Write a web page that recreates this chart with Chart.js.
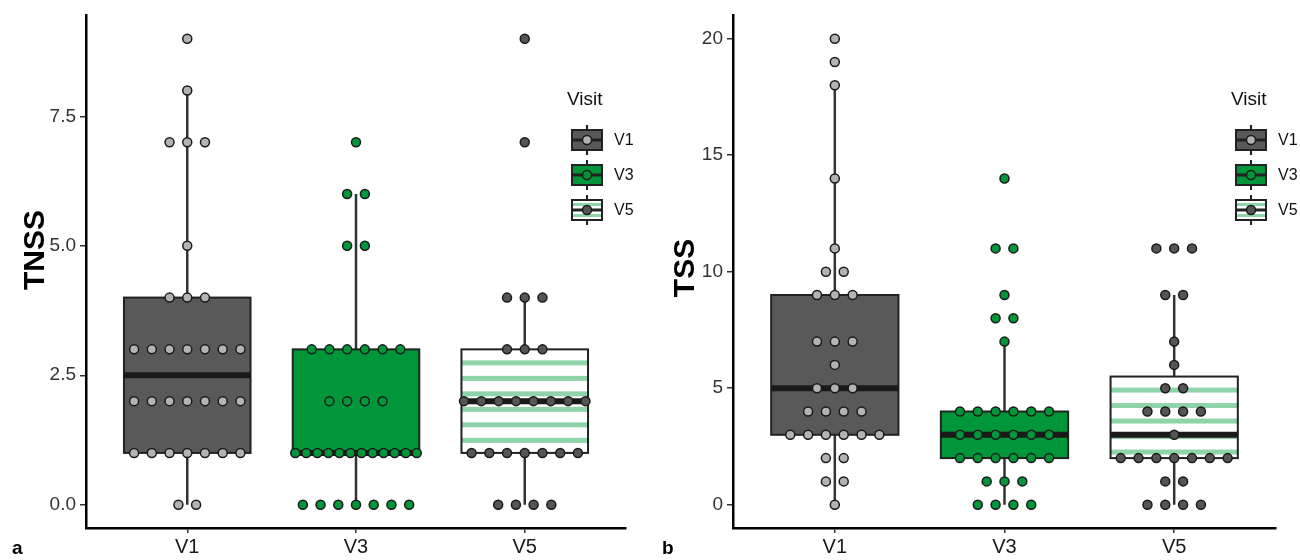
<!DOCTYPE html>
<html>
<head>
<meta charset="utf-8">
<script src="https://cdn.jsdelivr.net/npm/chart.js@4/dist/chart.umd.min.js"></script>
<style>
  body { margin: 0; background: #fff; }
  #wrap { position: relative; width: 1300px; height: 560px; }
  canvas { position: absolute; top: 0; }
</style>
</head>
<body>
<div id="wrap">
  <canvas id="panelA" width="650" height="560" style="left:0"></canvas>
  <canvas id="panelB" width="650" height="560" style="left:650px"></canvas>
</div>
<script>
var categories = ["V1", "V3", "V5"];

// TNSS scores per visit (one value per subject)
var tnssV1 = [9, 8, 7, 7, 7, 5, 4, 4, 4, 3, 3, 3, 3, 3, 3, 3, 2, 2, 2, 2, 2, 2, 2, 1, 1, 1, 1, 1, 1, 1, 0, 0];
var tnssV3 = [7, 6, 6, 5, 5, 3, 3, 3, 3, 3, 3, 2, 2, 2, 2, 1, 1, 1, 1, 1, 1, 1, 1, 1, 1, 1, 1, 0, 0, 0, 0, 0, 0, 0];
var tnssV5 = [9, 7, 4, 4, 4, 3, 3, 3, 2, 2, 2, 2, 2, 2, 2, 2, 1, 1, 1, 1, 1, 1, 1, 0, 0, 0, 0];

// TSS scores per visit
var tssV1 = [20, 19, 18, 14, 11, 10, 10, 9, 9, 9, 7, 7, 7, 6, 5, 5, 5, 4, 4, 4, 4, 3, 3, 3, 3, 3, 3, 2, 2, 1, 1, 0];
var tssV3 = [14, 11, 11, 9, 8, 8, 7, 4, 4, 4, 4, 4, 4, 3, 3, 3, 3, 3, 3, 2, 2, 2, 2, 2, 2, 1, 1, 1, 0, 0, 0, 0];
var tssV5 = [11, 11, 11, 9, 9, 7, 6, 5, 5, 4, 4, 4, 4, 3, 2, 2, 2, 2, 2, 2, 2, 1, 1, 0, 0, 0, 0];

var tnssTicks = [0, 2.5, 5, 7.5];
var tssTicks = [0, 5, 10, 15, 20];

var FONT = "'Liberation Sans', Arial, sans-serif";
var styles = [
    { fill: "#595959", stripes: false, point: "#b3b3b3" },
    { fill: "#009639", stripes: false, point: "#009639" },
    { fill: "#ffffff", stripes: true, point: "#555555" }
];

function quantile(sorted, p) {
    var h = (sorted.length - 1) * p;
    var lo = Math.floor(h);
    var hi = Math.ceil(h);
    return sorted[lo] + (h - lo) * (sorted[hi] - sorted[lo]);
}

function boxStats(values) {
    var s = values.slice().sort(function(a, b) { return a - b; });
    var q1 = quantile(s, 0.25), med = quantile(s, 0.5), q3 = quantile(s, 0.75);
    var iqr = q3 - q1;
    var inside = s.filter(function(v) { return v >= q1 - 1.5 * iqr && v <= q3 + 1.5 * iqr; });
    return { q1: q1, med: med, q3: q3, lo: inside[0], hi: inside[inside.length - 1] };
}

// spread points that share a value across the box (stand-in for jitter)
function spreadPoints(values, center) {
    var counts = {};
    values.forEach(function(v) { counts[v] = (counts[v] || 0) + 1; });
    var seen = {};
    return values.map(function(v) {
        var n = counts[v];
        var i = seen[v] || 0;
        seen[v] = i + 1;
        var span = Math.min(0.72, 0.105 * (n - 1));
        var off = n > 1 ? -span / 2 + i * span / (n - 1) : 0;
        return { x: center + off, y: v };
    });
}

function drawStripes(ctx, x0, y0, w, h) {
    ctx.save();
    ctx.beginPath();
    ctx.rect(x0, y0, w, h);
    ctx.clip();
    ctx.fillStyle = "#8fd3a8";
    for (var y = y0 + 11; y < y0 + h - 4; y += 15.5) {
        ctx.fillRect(x0, y, w, 5);
    }
    ctx.restore();
}

var boxPlugin = {
    id: "boxes",
    beforeDatasetsDraw: function(chart) {
        var ctx = chart.ctx;
        var xs = chart.scales.x, ys = chart.scales.y;
        chart.options.plugins.boxes.groups.forEach(function(vals, g) {
            var st = boxStats(vals);
            var cx = xs.getPixelForValue(g + 1);
            var half = (xs.getPixelForValue(g + 1.375) - xs.getPixelForValue(g + 0.625)) / 2;
            var yq1 = ys.getPixelForValue(st.q1), yq3 = ys.getPixelForValue(st.q3);
            ctx.save();
            ctx.strokeStyle = "#333333";
            ctx.lineWidth = 2.5;
            ctx.beginPath();
            ctx.moveTo(cx, ys.getPixelForValue(st.hi));
            ctx.lineTo(cx, yq3);
            ctx.moveTo(cx, yq1);
            ctx.lineTo(cx, ys.getPixelForValue(st.lo));
            ctx.stroke();
            ctx.fillStyle = styles[g].fill;
            ctx.fillRect(cx - half, yq3, half * 2, yq1 - yq3);
            if (styles[g].stripes) drawStripes(ctx, cx - half, yq3, half * 2, yq1 - yq3);
            ctx.strokeStyle = "#222222";
            ctx.lineWidth = 2;
            ctx.strokeRect(cx - half, yq3, half * 2, yq1 - yq3);
            ctx.strokeStyle = "#1a1a1a";
            ctx.lineWidth = 6;
            var ym = ys.getPixelForValue(st.med);
            ctx.beginPath();
            ctx.moveTo(cx - half, ym);
            ctx.lineTo(cx + half, ym);
            ctx.stroke();
            ctx.restore();
        });
    },
    afterDraw: function(chart) {
        var o = chart.options.plugins.boxes;
        var ctx = chart.ctx;
        ctx.save();
        // axis title
        ctx.fillStyle = "#000";
        ctx.font = "bold 30px " + FONT;
        ctx.textAlign = "center";
        ctx.textBaseline = "middle";
        ctx.translate(o.titleX, o.titleY);
        ctx.rotate(-Math.PI / 2);
        ctx.fillText(o.title, 0, 0);
        ctx.restore();

        ctx.save();
        ctx.fillStyle = "#000";
        ctx.font = "bold 19px " + FONT;
        ctx.textBaseline = "middle";
        ctx.fillText(o.letter, 12, 549);

        // legend
        var lx = o.legendX, ly = 100;
        ctx.font = "19px " + FONT;
        ctx.fillStyle = "#111";
        ctx.fillText("Visit", lx - 3, ly);
        categories.forEach(function(c, i) {
            var cy = 140 + i * 35;
            var kx = lx + 2, kw = 30, kh = 20;
            ctx.strokeStyle = "#222";
            ctx.lineWidth = 2;
            ctx.beginPath();
            ctx.moveTo(kx + kw / 2, cy - 15);
            ctx.lineTo(kx + kw / 2, cy + 15);
            ctx.stroke();
            ctx.fillStyle = styles[i].fill;
            ctx.fillRect(kx, cy - kh / 2, kw, kh);
            if (styles[i].stripes) {
                ctx.fillStyle = "#8fd3a8";
                ctx.fillRect(kx, cy - 7, kw, 3);
                ctx.fillRect(kx, cy + 4, kw, 3);
            }
            ctx.strokeRect(kx, cy - kh / 2, kw, kh);
            ctx.lineWidth = 3;
            ctx.beginPath();
            ctx.moveTo(kx, cy);
            ctx.lineTo(kx + kw, cy);
            ctx.stroke();
            ctx.beginPath();
            ctx.arc(kx + kw / 2, cy, 4.5, 0, Math.PI * 2);
            ctx.fillStyle = styles[i].point;
            ctx.fill();
            ctx.lineWidth = 1.5;
            ctx.strokeStyle = "#1a1a1a";
            ctx.stroke();
            ctx.fillStyle = "#111";
            ctx.font = "16px " + FONT;
            ctx.fillText(c, kx + kw + 12, cy + 1);
        });
        ctx.restore();
    }
};

function makePanel(id, groups, ticks, yMin, yMax, fmt, opts) {
    var datasets = groups.map(function(vals, g) {
        return {
            data: spreadPoints(vals, g + 1),
            pointRadius: 4.5,
            pointHoverRadius: 4.5,
            pointBorderWidth: 1.5,
            pointBackgroundColor: styles[g].point,
            pointBorderColor: "#1a1a1a",
            showLine: false
        };
    });

    return new Chart(document.getElementById(id).getContext("2d"), {
        type: "scatter",
        data: { datasets: datasets },
        options: {
            responsive: false,
            animation: false,
            layout: { padding: { top: 12, right: 24, left: 0, bottom: 0 } },
            plugins: {
                legend: { display: false },
                tooltip: { enabled: false },
                boxes: {
                    groups: groups,
                    title: opts.title,
                    titleX: opts.titleX,
                    titleY: opts.titleY,
                    letter: opts.letter,
                    legendX: opts.legendX
                }
            },
            scales: {
                x: {
                    type: "linear",
                    min: 0.4,
                    max: 3.6,
                    afterBuildTicks: function(scale) {
                        scale.ticks = categories.map(function(c, i) { return { value: i + 1 }; });
                    },
                    afterFit: function(scale) { scale.height = 32; },
                    ticks: {
                        padding: 2,
                        color: "#1a1a1a",
                        font: { family: FONT, size: 20 },
                        callback: function(v) { return categories[v - 1]; }
                    },
                    grid: { drawOnChartArea: false, drawTicks: true, tickLength: 5, color: "#333", lineWidth: 1.5 },
                    border: { display: true, color: "#000", width: 2.5 }
                },
                y: {
                    min: yMin,
                    max: yMax,
                    afterBuildTicks: function(scale) {
                        scale.ticks = ticks.map(function(t) { return { value: t }; });
                    },
                    afterFit: function(scale) { scale.width = opts.axisLeft; },
                    ticks: {
                        padding: 4,
                        color: "#333",
                        font: { family: FONT, size: 19 },
                        callback: fmt
                    },
                    grid: { drawOnChartArea: false, drawTicks: true, tickLength: 6, color: "#333", lineWidth: 1.5 },
                    border: { display: true, color: "#000", width: 2.5 }
                }
            }
        },
        plugins: [boxPlugin]
    });
}

makePanel("panelA", [tnssV1, tnssV3, tnssV5], tnssTicks, -0.45, 9.45,
    function(v) { return v.toFixed(1); },
    { title: "TNSS", titleX: 36, titleY: 250, letter: "a", legendX: 570, axisLeft: 86 });

makePanel("panelB", [tssV1, tssV3, tssV5], tssTicks, -1, 21,
    function(v) { return String(v); },
    { title: "TSS", titleX: 36, titleY: 268, letter: "b", legendX: 584, axisLeft: 83 });
</script>
</body>
</html>
